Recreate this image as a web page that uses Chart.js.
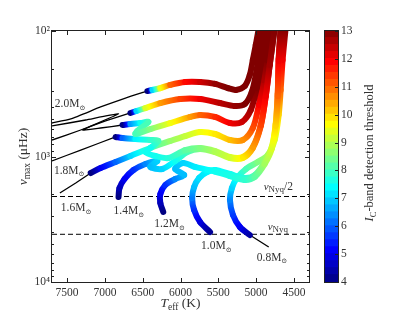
<!DOCTYPE html>
<html>
<head>
<meta charset="utf-8">
<script src="https://cdn.jsdelivr.net/npm/chart.js@4.4.0/dist/chart.umd.min.js"></script>
<style>
  body { margin: 0; background: #fff; }
  #wrap { position: relative; width: 415px; height: 313px; }
  canvas { position: absolute; left: 0; top: 0; }
</style>
</head>
<body>
<div id="wrap">
  <canvas id="mainChart" width="415" height="313"></canvas>
  <canvas id="barChart" width="415" height="313"></canvas>
</div>
<script>
// ---- axes ----
const xTicks = [7500, 7000, 6500, 6000, 5500, 5000, 4500];
const yTicks = [100, 200, 300, 400, 500, 600, 700, 800, 900,
                1000, 2000, 3000, 4000, 5000, 6000, 7000, 8000, 9000, 10000];
const cbTicks = [4, 5, 6, 7, 8, 9, 10, 11, 12, 13];
const nuNyq = 4167;

// ---- tracks: black part (before detection) then coloured part ----
// 2.0 Msun
const m20PreTeff = [7700, 7451, 7057, 6728, 6438];
const m20PreNumax = [541, 502, 403, 342, 301];
const m20Teff = [6438, 6372, 6267, 6136, 5938, 5741, 5543, 5372, 5267, 5149, 5083, 5043, 5004, 4964];
const m20Numax = [301, 295, 285, 269, 255, 255, 264, 285, 295, 274, 224, 170, 129, 95];
const m20Ic = [4, 7, 9.5, 11, 11.8, 12.3, 12.8, 13, 13, 13, 13, 13, 13, 13];

// unlabelled track below 2.0
const mAPreTeff = [7700, 7320, 6991, 6662];
const mAPreNumax = [739, 615, 521, 450];
const mATeff = [6662, 6583, 6464, 6267, 6004, 5741, 5478, 5280, 5149, 5057, 5004, 4964, 4912];
const mANumax = [450, 434, 411, 375, 348, 348, 375, 396, 382, 306, 224, 155, 95];
const mAIc = [4, 7, 9.3, 10.5, 11.3, 12, 12.5, 12.8, 13, 13, 13, 13, 13];

// unlabelled track with the hook loop
const mBPreTeff = [7700, 7254, 6820, 7293, 7057, 6767];
const mBPreNumax = [571, 512, 458, 615, 593, 561];
const mBTeff = [6767, 6662, 6530, 6425, 6570, 6596, 6399, 6136, 5872, 5741, 5543, 5346, 5188, 5070, 4991, 4938, 4899, 4859];
const mBNumax = [561, 551, 541, 531, 626, 662, 604, 541, 484, 467, 484, 541, 531, 426, 285, 187, 142, 95];
const mBIc = [4, 6.5, 7.5, 8, 8, 8, 8.5, 9.5, 10.5, 11, 11.5, 12, 12.3, 12.7, 13, 13, 13, 13];

// 1.8 Msun
const m18PreTeff = [7700, 7320, 6859];
const m18PreNumax = [1086, 888, 699];
const m18Teff = [6859, 6767, 6596, 6399, 6293, 6399, 6464, 6333, 6162, 5938, 5741, 5543, 5346, 5175, 5043, 4938, 4872, 4820, 4754];
const m18Numax = [699, 712, 726, 739, 752, 855, 921, 991, 1028, 888, 855, 904, 1009, 1009, 840, 561, 330, 187, 95];
const m18Ic = [4, 6, 7.3, 7.8, 8, 7.5, 7.5, 7.5, 7.7, 8.2, 8.5, 8.9, 9.2, 9.8, 10.5, 11.3, 12, 12.7, 13];

// 1.6 Msun
const m16PreTeff = [7596, 7386, 7188];
const m16PreNumax = [1953, 1627, 1354];
const m16Teff = [7188, 7057, 6859, 6662, 6399, 6136, 5938, 5741, 5543, 5346, 5175, 5043, 4964, 4912, 4859, 4807];
const m16Numax = [1354, 1235, 1106, 991, 855, 752, 687, 638, 662, 739, 739, 593, 389, 246, 170, 95];
const m16Ic = [4, 5, 6, 7, 8, 8.7, 9.1, 9.5, 9.8, 10.2, 10.6, 11.2, 11.9, 12.6, 13, 13];

// 1.4 Msun
const m14Teff = [6820, 6807, 6741, 6622, 6464, 6307, 6399, 6241, 6070, 5912, 5741, 5543, 5346, 5175, 5043, 4938, 4872, 4820, 4754];
const m14Numax = [2102, 1782, 1511, 1281, 1148, 1086, 1212, 1258, 1086, 921, 871, 921, 1028, 1028, 855, 571, 330, 187, 95];
const m14Ic = [4, 4.5, 5, 5.5, 6.3, 7, 6.8, 7, 7.5, 8, 8.5, 8.9, 9.2, 9.8, 10.5, 11.3, 12, 12.7, 13];

// 1.2 Msun
const m12Teff = [6228, 6267, 6267, 6201, 6070, 5951, 6070, 5965, 5807, 5635, 5543, 5346, 5149, 5017, 4886, 4793, 4741, 4714, 4701, 4675];
const m12Numax = [2768, 2347, 1990, 1687, 1511, 1404, 1258, 1127, 1212, 1281, 1317, 1430, 1539, 1457, 1148, 871, 571, 330, 173, 95];
const m12Ic = [4, 4.5, 5, 5.5, 6.3, 6.8, 6.8, 7, 7.2, 7.4, 7.5, 7.6, 7.8, 8.2, 8.8, 9.3, 10, 11, 12, 13];

// 1.0 Msun
const m10Teff = [5609, 5741, 5820, 5846, 5820, 5754, 5649, 5543, 5346, 5149, 5017, 4886, 4793, 4741, 4714, 4701, 4675];
const m10Numax = [3997, 3326, 2669, 2141, 1750, 1484, 1329, 1281, 1378, 1484, 1404, 1106, 840, 551, 318, 167, 95];
const m10Ic = [4.2, 4.8, 5.5, 6.2, 6.8, 7.1, 7.3, 7.4, 7.5, 7.7, 8.1, 8.7, 9.2, 9.9, 10.9, 11.9, 13];

// 0.8 Msun
const m08PreTeff = [4833, 5083];
const m08PreNumax = [5261, 4222];
const m08Teff = [5083, 5214, 5306, 5346, 5320, 5254, 5135, 4978, 4846, 4754, 4701, 4675, 4649, 4609];
const m08Numax = [4222, 3645, 2925, 2221, 1782, 1484, 1258, 1106, 973, 739, 467, 295, 170, 95];
const m08Ic = [4.3, 5, 5.6, 6.3, 7, 7.5, 8, 8.5, 8.8, 9.3, 10, 11, 12, 13];

// mass labels (left edge / middle of text)
const massLabels = ['2.0', '1.8', '1.6', '1.4', '1.2', '1.0', '0.8'];
const labelTeff = [7662, 7675, 7583, 6886, 6346, 5728, 4991];
const labelNumax = [375, 1281, 2526, 2669, 3388, 5072, 6321];

// ---- helpers ----
const serif = "'Liberation Serif', 'DejaVu Serif', serif";
const textColor = '#333';
Chart.defaults.font.family = serif;
Chart.defaults.color = textColor;

function jet(v) {
    const t = Math.min(1, Math.max(0, (v - 4) / 9));
    const c = k => Math.round(255 * Math.min(1, Math.max(0, 1.5 - Math.abs(4 * t - k))));
    return 'rgb(' + c(3) + ',' + c(2) + ',' + c(1) + ')';
}

const mainCanvas = document.getElementById('mainChart');
const mainCtx = mainCanvas.getContext('2d');

function segGrad(c, ic) {
    const a = c.p0, b = c.p1;
    const v0 = ic[c.p0DataIndex], v1 = ic[c.p1DataIndex];
    if (Math.abs(a.x - b.x) + Math.abs(a.y - b.y) < 0.5) return jet(v0);
    const g = mainCtx.createLinearGradient(a.x, a.y, b.x, b.y);
    for (let k = 0; k <= 4; k++) g.addColorStop(k / 4, jet(v0 + (v1 - v0) * k / 4));
    return g;
}

function pts(teff, numax) {
    return teff.map((t, i) => ({ x: t, y: numax[i] }));
}

function trackSet(teff, numax, ic, order) {
    return {
        data: pts(teff, numax),
        showLine: true,
        borderWidth: 6,
        borderColor: jet(ic[0]),
        borderCapStyle: 'round',
        borderJoinStyle: 'round',
        tension: 0.3,
        pointRadius: 0,
        clip: 0,
        order: order,
        segment: { borderColor: c => segGrad(c, ic) }
    };
}

function blackSet(teff, numax) {
    return {
        data: pts(teff, numax),
        showLine: true,
        borderWidth: 1.3,
        borderColor: '#000',
        tension: 0.15,
        pointRadius: 0,
        clip: 0,
        order: 20
    };
}

function hLine(y) {
    return {
        data: [{ x: 7700, y: y }, { x: 4300, y: y }],
        showLine: true,
        borderWidth: 1,
        borderColor: '#000',
        borderDash: [5, 3],
        pointRadius: 0,
        order: 30
    };
}

// rich text: runs of {t, size, dy, italic}
function richText(ctx, runs, x, y, align) {
    const f = r => (r.italic ? 'italic ' : '') + r.size + 'px ' + serif;
    let w = 0;
    runs.forEach(r => { ctx.font = f(r); w += ctx.measureText(r.t).width; });
    let cx = align === 'center' ? x - w / 2 : x;
    runs.forEach(r => {
        ctx.font = f(r);
        ctx.fillText(r.t, cx, y + (r.dy || 0));
        cx += ctx.measureText(r.t).width;
    });
}

const decades = [100, 1000, 10000];
const supLabel = { 100: '10\u00b2', 1000: '10\u00b3', 10000: '10\u2074' };

// ---- main chart plugins ----
const frameTicks = {
    id: 'frameTicks',
    afterDatasetsDraw(chart) {
        const { ctx, chartArea: a, scales: { x, y } } = chart;
        ctx.save();
        ctx.strokeStyle = '#222';
        ctx.lineWidth = 1;
        ctx.beginPath();
        x.ticks.forEach(t => {
            const px = Math.round(x.getPixelForValue(t.value)) + 0.5;
            ctx.moveTo(px, a.bottom); ctx.lineTo(px, a.bottom - 4);
            ctx.moveTo(px, a.top); ctx.lineTo(px, a.top + 4);
        });
        y.ticks.forEach(t => {
            const py = Math.round(y.getPixelForValue(t.value)) + 0.5;
            const len = decades.includes(t.value) ? 4 : 2;
            ctx.moveTo(a.left, py); ctx.lineTo(a.left + len, py);
            ctx.moveTo(a.right, py); ctx.lineTo(a.right - len, py);
        });
        ctx.stroke();
        ctx.strokeRect(a.left - 0.5, a.top - 0.5, a.width + 1, a.height + 1);
        ctx.restore();
    }
};

const annotations = {
    id: 'annotations',
    afterDraw(chart) {
        const { ctx, chartArea: a, scales: { x, y } } = chart;
        ctx.save();
        ctx.fillStyle = textColor;
        ctx.textBaseline = 'alphabetic';
        massLabels.forEach((m, i) => {
            const px = x.getPixelForValue(labelTeff[i]);
            const py = y.getPixelForValue(labelNumax[i]) + 4;
            richText(ctx, [{ t: m + 'M', size: 11.5 }, { t: '\u2299', size: 7, dy: 2.5 }], px, py, 'left');
        });
        let px = x.getPixelForValue(4899), py = y.getPixelForValue(1718) + 4;
        richText(ctx, [{ t: '\u03bd', size: 11, italic: true }, { t: 'Nyq', size: 9, dy: 2.5 }, { t: '/2', size: 11.5 }], px, py, 'left');
        px = x.getPixelForValue(4846); py = y.getPixelForValue(3579) + 4;
        richText(ctx, [{ t: '\u03bd', size: 11, italic: true }, { t: 'Nyq', size: 9, dy: 2.5 }], px, py, 'left');

        // axis titles
        richText(ctx, [{ t: 'T', size: 13.5, italic: true }, { t: 'eff', size: 9.5, dy: 2.5 }, { t: ' (K)', size: 13.5 }],
            (a.left + a.right) / 2, 307, 'center');
        ctx.translate(27, (a.top + a.bottom) / 2);
        ctx.rotate(-Math.PI / 2);
        richText(ctx, [{ t: '\u03bd', size: 13.5, italic: true }, { t: 'max', size: 9.5, dy: 2.5 }, { t: ' (\u03bcHz)', size: 13.5 }],
            0, 0, 'center');
        ctx.restore();
    }
};

const datasets = [
    trackSet(m20Teff, m20Numax, m20Ic, 1),
    trackSet(mATeff, mANumax, mAIc, 2),
    trackSet(mBTeff, mBNumax, mBIc, 3),
    trackSet(m18Teff, m18Numax, m18Ic, 4),
    trackSet(m16Teff, m16Numax, m16Ic, 5),
    trackSet(m14Teff, m14Numax, m14Ic, 6),
    trackSet(m12Teff, m12Numax, m12Ic, 7),
    trackSet(m10Teff, m10Numax, m10Ic, 8),
    trackSet(m08Teff, m08Numax, m08Ic, 9),
    blackSet(m20PreTeff, m20PreNumax),
    blackSet(mAPreTeff, mAPreNumax),
    blackSet(mBPreTeff, mBPreNumax),
    blackSet(m18PreTeff, m18PreNumax),
    blackSet(m16PreTeff, m16PreNumax),
    blackSet(m08PreTeff, m08PreNumax),
    hLine(nuNyq / 2),
    hLine(nuNyq)
];

new Chart(mainCanvas, {
    type: 'scatter',
    data: { datasets: datasets },
    options: {
        responsive: false,
        animation: false,
        devicePixelRatio: 1,
        layout: { padding: { left: 0, right: 106, top: 31, bottom: 0 } },
        plugins: { legend: { display: false }, tooltip: { enabled: false } },
        scales: {
            x: {
                type: 'linear',
                reverse: true,
                min: 4300,
                max: 7700,
                grid: { display: false, drawTicks: false },
                border: { display: false },
                afterBuildTicks: s => { s.ticks = xTicks.map(v => ({ value: v })); },
                afterFit: s => { s.height = 31; },
                ticks: { autoSkip: false, maxRotation: 0, padding: 4, font: { size: 11.5 }, callback: v => String(v) }
            },
            y: {
                type: 'logarithmic',
                reverse: true,
                min: 100,
                max: 10000,
                grid: { display: false, drawTicks: false },
                border: { display: false },
                afterBuildTicks: s => { s.ticks = yTicks.map(v => ({ value: v, major: decades.includes(v) })); },
                afterFit: s => { s.width = 52; },
                ticks: { autoSkip: false, padding: 2, font: { size: 11.5 }, callback: v => supLabel[v] || '' }
            }
        }
    },
    plugins: [frameTicks, annotations]
});

// ---- colour bar ----
const bandSets = [];
for (let lo = 4; lo < 13; lo += 0.25) {
    bandSets.push({
        data: [[lo, Math.min(13, lo + 0.27)]],
        backgroundColor: jet(lo + 0.125),
        borderWidth: 0,
        grouped: false,
        barPercentage: 1,
        categoryPercentage: 1
    });
}

const cbFrame = {
    id: 'cbFrame',
    afterDraw(chart) {
        const { ctx, chartArea: a, scales: { y } } = chart;
        ctx.save();
        ctx.strokeStyle = '#222';
        ctx.lineWidth = 1;
        ctx.beginPath();
        cbTicks.forEach(v => {
            const py = Math.round(y.getPixelForValue(v)) + 0.5;
            ctx.moveTo(a.right, py); ctx.lineTo(a.right - 3, py);
        });
        ctx.stroke();
        ctx.strokeRect(a.left - 0.5, a.top - 0.5, a.width + 1, a.height + 1);
        ctx.fillStyle = textColor;
        ctx.translate(373, 153);
        ctx.rotate(-Math.PI / 2);
        richText(ctx, [{ t: 'I', size: 12.5, italic: true }, { t: 'C', size: 8.5, dy: 2.5 }, { t: '-band detection threshold', size: 12.5 }],
            0, 0, 'center');
        ctx.restore();
    }
};

new Chart(document.getElementById('barChart'), {
    type: 'bar',
    data: { labels: [''], datasets: bandSets },
    options: {
        responsive: false,
        animation: false,
        devicePixelRatio: 1,
        layout: { padding: { left: 325, right: 47, top: 31, bottom: 31 } },
        plugins: { legend: { display: false }, tooltip: { enabled: false } },
        scales: {
            x: { display: false },
            y: {
                position: 'right',
                min: 4,
                max: 13,
                grid: { display: false, drawTicks: false },
                border: { display: false },
                afterBuildTicks: s => { s.ticks = cbTicks.map(v => ({ value: v })); },
                afterFit: s => { s.width = 30; },
                ticks: { autoSkip: false, padding: 3, font: { size: 11.5 } }
            }
        }
    },
    plugins: [cbFrame]
});
</script>
</body>
</html>
